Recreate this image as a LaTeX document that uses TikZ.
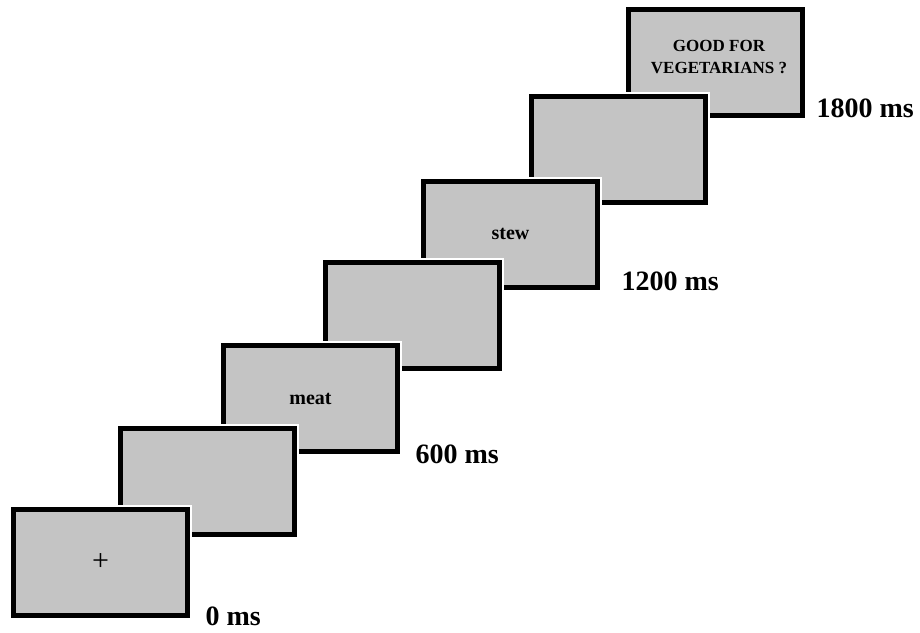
\documentclass[tikz,border=0pt]{standalone}
\usepackage{fontspec}
\setmainfont{Liberation Serif}
\definecolor{screengray}{RGB}{196,196,196}

\begin{document}
\begin{tikzpicture}[x=1pt,y=-1pt,
  screen/.style={rectangle,draw,line width=5pt,fill=screengray,
    minimum width=174pt,minimum height=106pt,inner sep=0pt,
    preaction={draw=white,line width=9pt}},
  word/.style={font=\fontsize{20}{24}\selectfont\bfseries},
  time/.style={anchor=base west,font=\fontsize{28}{32}\selectfont\bfseries}]
  \useasboundingbox[fill=white] (0,0) rectangle (920,632);

  % screens, back to front
  \node[screen,align=center,text depth=10pt,
    font=\fontsize{17}{22}\selectfont\bfseries] (question) at (715,62) {\hspace*{8pt}GOOD FOR\\ \hspace*{8pt}VEGETARIANS ?};
  \node[screen] (blank3) at (618,149.5) {};
  \node[screen,word] (stew) at (510.5,234) {stew};
  \node[screen] (blank2) at (412,315) {};
  \node[screen,word] (meat) at (310.5,398.5) {meat};
  \node[screen] (blank1) at (207,481) {};
  \node[screen,font=\fontsize{30}{34}\selectfont] (fix) at (100.5,562.5) {+};

  % times
  \node[time] (t0) at (202,625) {0 ms};
  \node[time] (t600) at (412,463) {600 ms};
  \node[time] (t1200) at (618,290) {1200 ms};
  \node[time] (t1800) at (813,117) {1800 ms};
\end{tikzpicture}
\end{document}
